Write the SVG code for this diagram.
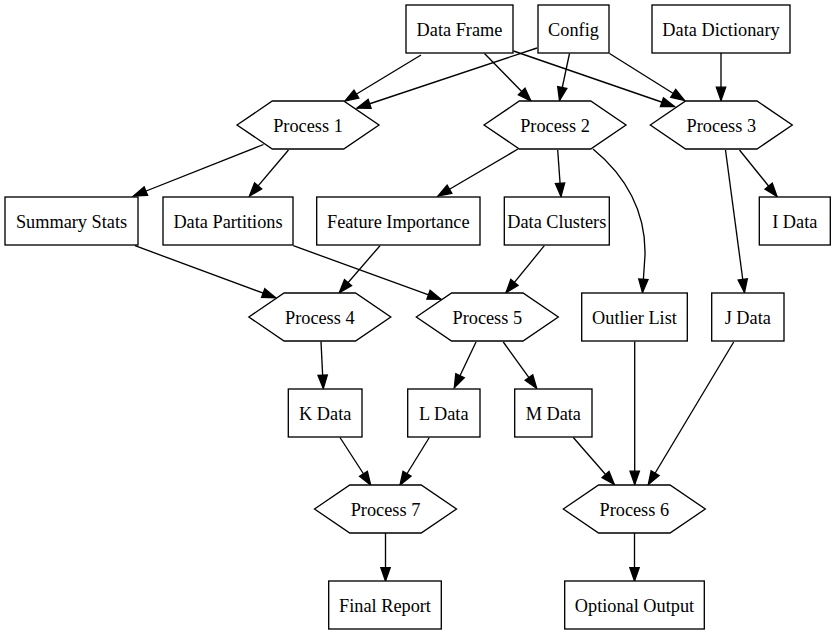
<svg xmlns="http://www.w3.org/2000/svg" width="836" height="635" viewBox="0 0 836 635">
<style>
.n rect, .n polygon { fill: #fff; stroke: #000; stroke-width: 1.33; }
.n text { font-family: "Liberation Serif", "Times New Roman", serif; font-size: 18.3px; text-anchor: middle; fill: #000; }
.e path { fill: none; stroke: #000; stroke-width: 1.33; marker-end: url(#arr); }
</style>
<defs>
<marker id="arr" markerUnits="userSpaceOnUse" markerWidth="14" markerHeight="10" refX="13.3" refY="4.67" orient="auto" overflow="visible">
<path d="M0,0 L13.3,4.67 L0,9.33 Z" fill="#000" stroke="#000" stroke-width="1.33"/>
</marker>
</defs>
<rect width="836" height="635" fill="#fff"/>
<g class="e" id="edges">
<path d="M421,55 L345,101"/>
<path d="M537,48 L357,108"/>
<path d="M484.5,53.5 L531,101"/>
<path d="M569.5,53.5 L559.5,100.5"/>
<path d="M513.5,51 L674.5,106.5"/>
<path d="M609.5,53.5 L684.5,100.5"/>
<path d="M721,53 L721,100.5"/>
<path d="M263.5,144.5 L133.5,196"/>
<path d="M288.5,150 L249.5,196"/>
<path d="M518,149 L438,196"/>
<path d="M557.7,150 L561,196.5"/>
<path d="M593,149 C626,176 646,212 645,255 L642.5,292.5"/>
<path d="M739.5,150 L777,196.5"/>
<path d="M725.5,150 L744.5,292.5"/>
<path d="M135,245.7 L275.7,297.7"/>
<path d="M293.3,245.7 L441,299.3"/>
<path d="M380,245.7 L339.3,292.7"/>
<path d="M544.3,245.7 L506,292.7"/>
<path d="M321,341.5 L323.3,388.5"/>
<path d="M476,342 L454.3,387.7"/>
<path d="M503.3,342 L536.7,388.3"/>
<path d="M340,437.5 L370.7,485"/>
<path d="M429.3,437.5 L400,485"/>
<path d="M573.3,437.5 L614.3,484.5"/>
<path d="M634.7,341.5 L634.7,484.5"/>
<path d="M733.7,342 L648.3,484.5"/>
<path d="M385.5,533 L385.5,581"/>
<path d="M634.5,533 L634.5,581"/>
</g>
<g class="n" id="data_frame"><rect x="406" y="5" width="107" height="48"/><text x="459.5" y="35.5">Data Frame</text></g>
<g class="n" id="config"><rect x="538" y="5" width="71" height="48"/><text x="573.5" y="35.5">Config</text></g>
<g class="n" id="data_dictionary"><rect x="652" y="5" width="138" height="48"/><text x="721" y="35.5">Data Dictionary</text></g>
<g class="n" id="process1"><polygon points="237,125 272.3,101 343.7,101 379,125 343.7,149 272.3,149"/><text x="308" y="131.5">Process 1</text></g>
<g class="n" id="process2"><polygon points="484,125 519.3,101 590.7,101 626,125 590.7,149 519.3,149"/><text x="555" y="131.5">Process 2</text></g>
<g class="n" id="process3"><polygon points="650.3,125 685.6,101 757,101 792.3,125 757,149 685.6,149"/><text x="721.3" y="131.5">Process 3</text></g>
<g class="n" id="summary_stats"><rect x="5" y="197" width="133" height="48"/><text x="71.5" y="227.5">Summary Stats</text></g>
<g class="n" id="data_partitions"><rect x="163" y="197" width="130" height="48"/><text x="228" y="227.5">Data Partitions</text></g>
<g class="n" id="feature_importance"><rect x="316.7" y="197" width="163.3" height="48"/><text x="398.3" y="227.5">Feature Importance</text></g>
<g class="n" id="data_clusters"><rect x="504.3" y="197" width="105" height="48"/><text x="556.8" y="227.5">Data Clusters</text></g>
<g class="n" id="i_data"><rect x="759.3" y="197" width="71" height="48"/><text x="794.8" y="227.5">I Data</text></g>
<g class="n" id="process4"><polygon points="248.8,317 284.1,293 355.5,293 390.8,317 355.5,341 284.1,341"/><text x="319.8" y="323.5">Process 4</text></g>
<g class="n" id="process5"><polygon points="416.3,317 451.6,293 523,293 558.3,317 523,341 451.6,341"/><text x="487.3" y="323.5">Process 5</text></g>
<g class="n" id="outlier_list"><rect x="581.7" y="293" width="105.6" height="48"/><text x="634.5" y="323.5">Outlier List</text></g>
<g class="n" id="j_data"><rect x="711.7" y="293" width="72.3" height="48"/><text x="747.8" y="323.5">J Data</text></g>
<g class="n" id="k_data"><rect x="288.3" y="389" width="73.7" height="48"/><text x="325.2" y="419.5">K Data</text></g>
<g class="n" id="l_data"><rect x="407.7" y="389" width="72.3" height="48"/><text x="443.8" y="419.5">L Data</text></g>
<g class="n" id="m_data"><rect x="514.7" y="389" width="77.3" height="48"/><text x="553.3" y="419.5">M Data</text></g>
<g class="n" id="process7"><polygon points="314.5,509 349.8,485 421.2,485 456.5,509 421.2,533 349.8,533"/><text x="385.5" y="515.5">Process 7</text></g>
<g class="n" id="process6"><polygon points="563.3,509 598.6,485 670,485 705.3,509 670,533 598.6,533"/><text x="634.3" y="515.5">Process 6</text></g>
<g class="n" id="final_report"><rect x="328.7" y="581" width="112.6" height="48"/><text x="385" y="611.5">Final Report</text></g>
<g class="n" id="optional_output"><rect x="564.7" y="581" width="139.6" height="48"/><text x="634.5" y="611.5">Optional Output</text></g>
</svg>
